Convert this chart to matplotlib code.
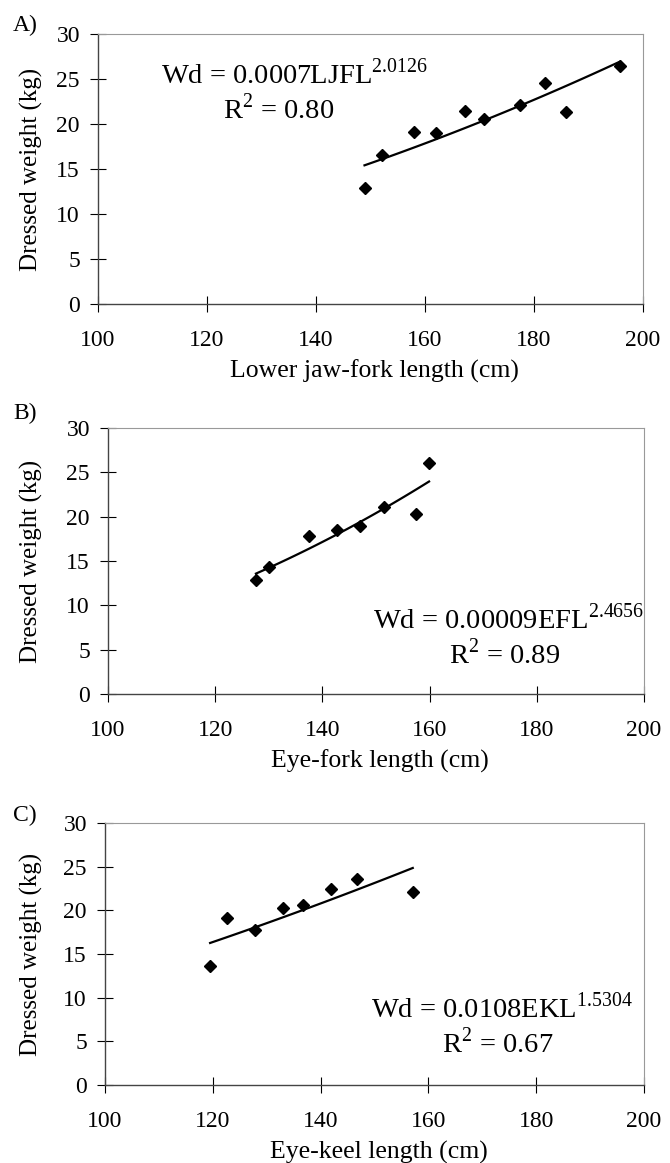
import numpy as np
import matplotlib
matplotlib.use("Agg")
import matplotlib.pyplot as plt

plt.rcParams['font.family'] = ['Liberation Serif', 'DejaVu Serif']
plt.rcParams['mathtext.fontset'] = 'custom'
plt.rcParams['mathtext.rm'] = 'Liberation Serif'

# panel A: lower jaw-fork length
ljfl_x = [148.9, 152.2, 157.9, 162.1, 167.4, 170.9, 177.4, 182.0, 185.8, 195.8]
ljfl_y = [12.9, 16.6, 19.1, 19.0, 21.5, 20.6, 22.1, 24.6, 21.3, 26.4]
# panel B: eye-fork length
efl_x = [127.6, 130.1, 137.5, 142.8, 147.0, 151.4, 157.4, 159.9]
efl_y = [12.85, 14.3, 17.8, 18.5, 18.9, 21.1, 20.3, 26.1]
# panel C: eye-keel length
ekl_x = [119.5, 122.7, 127.8, 133.0, 136.7, 142.0, 146.8, 157.1]
ekl_y = [13.6, 19.1, 17.8, 20.3, 20.6, 22.4, 23.6, 22.1]

panel_tags = ["A)", "B)", "C)"]
xlabels = ["Lower jaw-fork length (cm)", "Eye-fork length (cm)", "Eye-keel length (cm)"]
equations = [r"Wd = 0.0007LJFL$^{\mathrm{2.0126}}$",
             r"Wd = 0.00009EFL$^{\mathrm{2.4656}}$",
             r"Wd = 0.0108EKL$^{\mathrm{1.5304}}$"]
r2_labels = [r"R$^{\mathrm{2}}$ = 0.80", r"R$^{\mathrm{2}}$ = 0.89", r"R$^{\mathrm{2}}$ = 0.67"]

W, H = 670, 1163
fig = plt.figure(figsize=(W / 100, H / 100), dpi=100)


def fx(px):
    return px / W


def fy(py):
    return 1 - py / H


# axes boxes in pixels: left, right, top, bottom
boxes = [(98, 643, 34, 304), (108, 644, 428, 694), (105, 644, 823, 1085)]
# text spots in pixels: eq start x, eq baseline y, r2 centre x, r2 baseline y
eq_spots = [(161, 84, 279, 119), (373, 629, 505, 664), (371, 1018, 498, 1053)]
tag_spots = [(25, 25), (25, 413), (25, 815)]

data = [(ljfl_x, ljfl_y), (efl_x, efl_y), (ekl_x, ekl_y)]

for i, (xs, ys) in enumerate(data):
    l, r, t, b = boxes[i]
    ax = fig.add_axes([fx(l), fy(b), fx(r) - fx(l), fy(t) - fy(b)])
    xs = np.array(xs)
    ys = np.array(ys)
    ax.plot(xs, ys, 'D', color='black', ms=6, zorder=3)
    # power trendline fitted in log space
    k, c = np.polyfit(np.log(xs), np.log(ys), 1)
    xx = np.linspace(xs.min(), xs.max(), 50)
    ax.plot(xx, np.exp(c) * xx ** k, color='black', lw=1.6)

    ax.set_xlim(100, 200)
    ax.set_ylim(0, 30)
    ax.set_xticks(range(100, 201, 20))
    ax.set_yticks(range(0, 31, 5))
    ax.tick_params(direction='inout', length=12, width=0.8, labelsize=17, colors='black')
    ax.tick_params(axis='x', pad=13)
    ax.tick_params(axis='y', pad=7)
    for s in ['left', 'bottom']:
        ax.spines[s].set_color('#444444')
        ax.spines[s].set_linewidth(1.0)
    for s in ['top', 'right']:
        ax.spines[s].set_color('#999999')
        ax.spines[s].set_linewidth(0.8)

    fig.text(fx(31), fy((t + b) / 2), "Dressed weight (kg)", rotation=90,
             ha='center', va='center', fontsize=18)
    fig.text(fx((l + r) / 2 + 4), fy(b + 67), xlabels[i], ha='center', va='center', fontsize=18.5)
    fig.text(fx(tag_spots[i][0]), fy(tag_spots[i][1]), panel_tags[i],
             ha='center', va='center', fontsize=17)

    ex, ey, rx, ry = eq_spots[i]
    fig.text(fx(ex), fy(ey), equations[i], ha='left', va='baseline', fontsize=20.5)
    fig.text(fx(rx), fy(ry), r2_labels[i], ha='center', va='baseline', fontsize=20.5)

fig.savefig("out.png", dpi=100)
